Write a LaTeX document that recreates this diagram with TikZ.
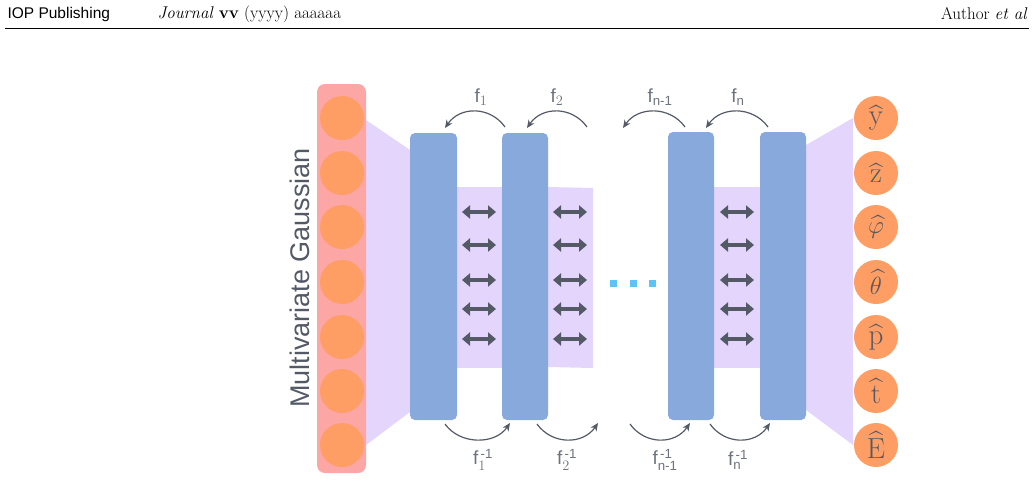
\documentclass[tikz,border=0pt]{standalone}
\usepackage{amsmath}
\usepackage{fontspec}
\setsansfont{Liberation Sans}
\usetikzlibrary{arrows.meta}
\definecolor{blockblue}{HTML}{87A9DC}
\definecolor{bandlilac}{HTML}{E4D5FC}
\definecolor{barpink}{HTML}{FDA6A6}
\definecolor{dotorange}{HTML}{FE9E64}
\definecolor{arrgrey}{HTML}{535A66}
\definecolor{dotcyan}{HTML}{5BC3F5}
\tikzset{
  block/.style={fill=blockblue,rounded corners=5pt},
  band/.style={fill=bandlilac},
  unit/.style={circle,fill=dotorange,minimum size=44pt,inner sep=0pt,text=arrgrey,font=\fontsize{29}{29}\selectfont},
  flow/.style={-{Stealth[length=8pt,width=7pt]},arrgrey,line width=1.2pt},
  swap/.style={{Triangle[length=8pt,width=13pt]}-{Triangle[length=8pt,width=13pt]},arrgrey,line width=3.5pt},
  flab/.style={text=arrgrey!85,font=\sffamily\fontsize{19}{19}\selectfont}
}
\begin{document}
\begin{tikzpicture}[x=1pt,y=-1pt]
  \useasboundingbox (0,0) rectangle (1034,480);
  % header
  \node[anchor=west,font=\sffamily\fontsize{15.5}{15.5}\selectfont] (pub) at (4,14) {IOP Publishing};
  \node[anchor=west,font=\fontsize{17}{17}\selectfont] (jour) at (154,14) {\textit{Journal} \textbf{vv} (yyyy) aaaaaa};
  \node[anchor=east,font=\fontsize{17}{17}\selectfont] (auth) at (1031,14) {Author \textit{et al}};
  \draw[line width=0.6pt] (5,28) -- (1029,28);
  % trapezoids
  \fill[band] (366,120) -- (410,150) -- (410,412) -- (366,445) -- cycle;
  \fill[band] (806,145) -- (853,118) -- (853,445) -- (806,410) -- cycle;
  % bands
  \fill[band] (457,187) rectangle (502,368);
  \fill[band] (548,187) -- (593,188) -- (593,368) -- (548,367) -- cycle;
  \fill[band] (714,187) rectangle (760,368);
  % input bar
  \fill[barpink,rounded corners=8pt] (317,84) rectangle (366,473);
  \node[rotate=90,text=arrgrey,font=\sffamily\fontsize{27}{27}\selectfont] (gauss) at (300,278) {Multivariate Gaussian};
  \foreach \i/\y in {1/118,2/173,3/227,4/282,5/337,6/391,7/445}
    \node[unit] (in\i) at (342,\y) {};
  % blocks
  \fill[block] (410,133) rectangle (457,420);
  \fill[block] (502,133) rectangle (548,420);
  \fill[block] (668,132) rectangle (714,420);
  \fill[block] (760,132) rectangle (806,420);
  % swap arrows
  \foreach \x in {479,570,737}
    \foreach \y in {212,245,280,309,339}
      \draw[swap] (\x-17,\y) -- (\x+17,\y);
  % dots
  \foreach \x in {613,633,652}
    \fill[dotcyan] (\x-3.5,280) rectangle (\x+3.5,287);
  % outputs
  \foreach \i/\y/\t in {1/118/\widehat{\mathrm{y}},2/173/\widehat{\mathrm{z}},3/227/\widehat{\varphi},4/282/\widehat{\theta},5/337/\widehat{\mathrm{p}},6/391/\widehat{\mathrm{t}},7/445/\widehat{\mathrm{E}}}
    \node[unit] (out\i) at (876,\y) {$\t$};
  % forward flows
  \foreach \s/\e/\l/\t in {505/445/481/{f$_1$},587/527/557/{f$_2$},685/623/660/{f$_\text{n-1}$},768/706/738/{f$_\text{n}$}} {
    \coordinate (fs) at (\s,127);
    \coordinate (fe) at (\e,128);
    \draw[flow] (fs) .. controls (\s-15,106) and (\e+15,106) .. (fe);
    \node[flab] (fl) at (\l,97) {\t};
  }
  % inverse flows
  \foreach \s/\e/\l/\t in {445/510/483/{f$_1^{\,\text{-1}}$},537/598/567/{f$_2^{\,\text{-1}}$},630/690/665/{f$_\text{n-1}^{\,\text{-1}}$},710/770/738/{f$_\text{n}^{\,\text{-1}}$}} {
    \coordinate (bs) at (\s,424);
    \coordinate (be) at (\e,423);
    \draw[flow] (bs) .. controls (\s+15,445) and (\e-15,445) .. (be);
    \node[flab] (bl) at (\l,460) {\t};
  }
\end{tikzpicture}
\end{document}
